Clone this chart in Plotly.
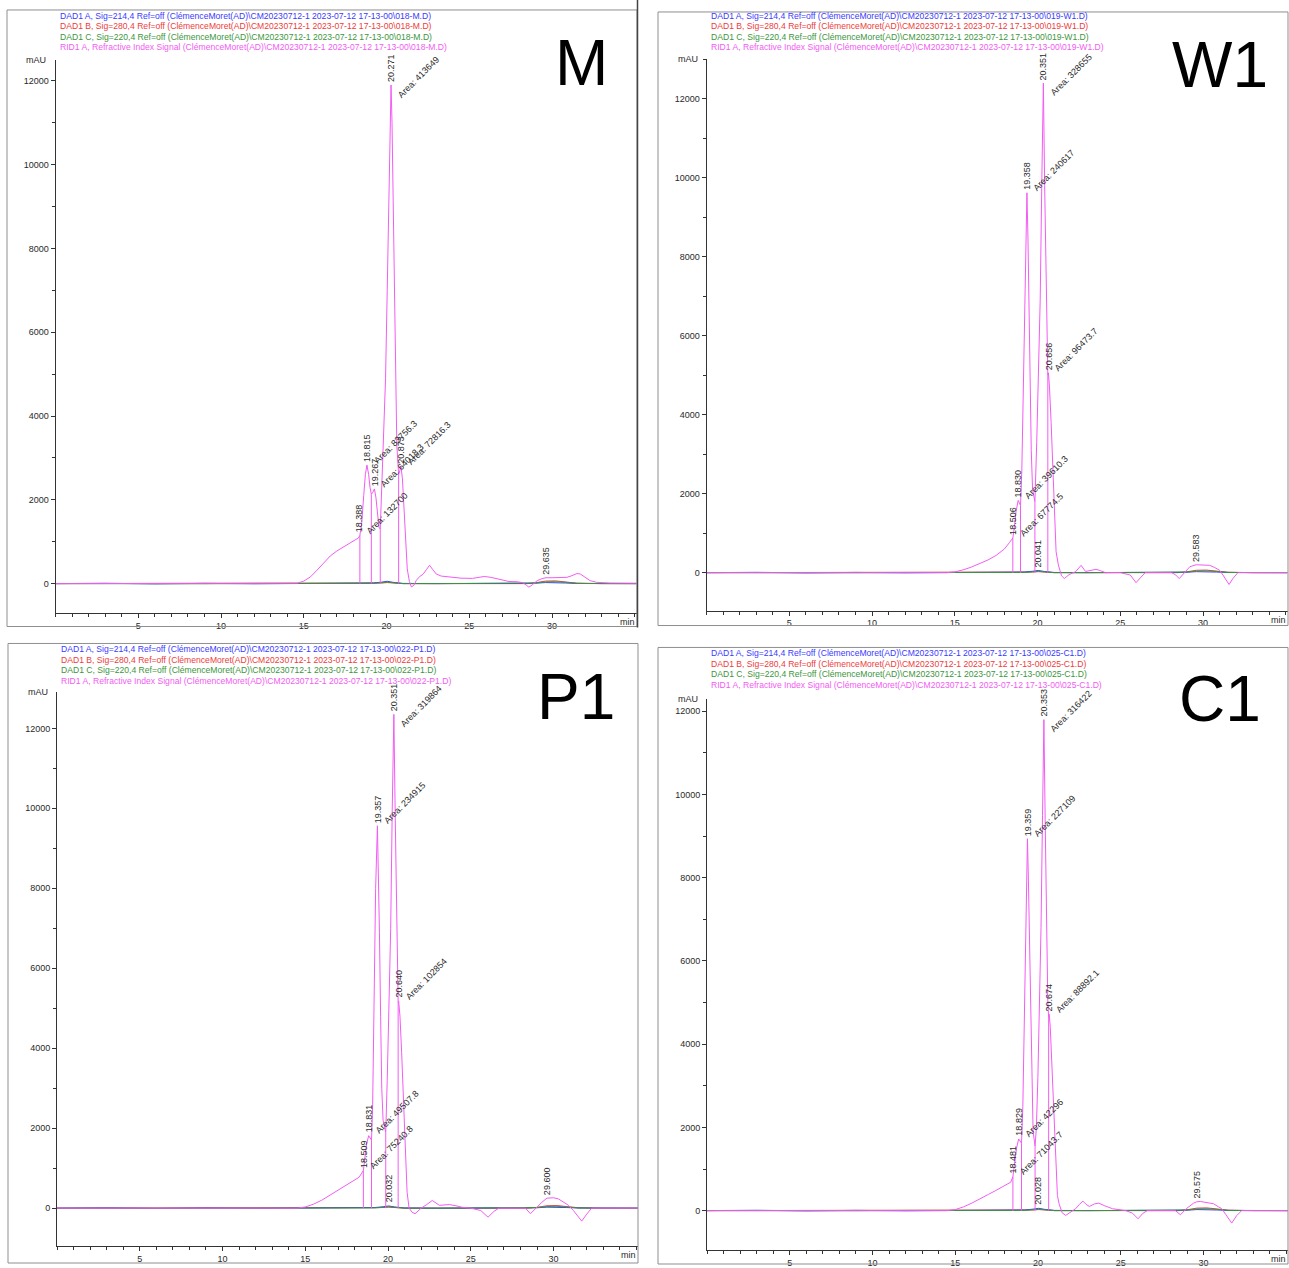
import plotly.graph_objects as go

FIG_W, FIG_H = 1289, 1268

# ---------------------------------------------------------------------------
# RID1 A refractive-index traces: (retention time [min], signal [mAU])
# ---------------------------------------------------------------------------
M_RID = [
    (0, 0), (4, 0), (8, 0), (12, 0), (14.2, 0), (14.6, 10), (15.0, 60), (15.4, 160),
    (15.8, 320), (16.2, 500), (16.6, 660), (17.0, 780), (17.4, 880), (17.8, 960),
    (18.1, 1040), (18.3, 1090), (18.388, 1150), (18.5, 1450), (18.62, 2100),
    (18.72, 2600), (18.815, 2830), (18.92, 2600), (19.0, 2300), (19.08, 2130),
    (19.17, 2180), (19.267, 2260), (19.36, 2050), (19.45, 1650), (19.54, 1350),
    (19.62, 1300), (19.72, 2300), (19.82, 3600), (19.94, 4900), (20.04, 7000),
    (20.14, 9400), (20.22, 11000), (20.271, 11900), (20.33, 11000), (20.4, 8900),
    (20.47, 6700), (20.54, 4700), (20.62, 3300), (20.73, 2600), (20.873, 2790),
    (20.96, 2500), (21.05, 1800), (21.15, 1000), (21.25, 350), (21.38, 50),
    (21.5, -80), (21.65, -40), (21.8, 80), (22.0, 170), (22.2, 220), (22.4, 330),
    (22.6, 437), (22.8, 330), (23.0, 230), (23.3, 180), (23.8, 160), (24.5, 130),
    (25.2, 125), (25.6, 150), (25.9, 170), (26.3, 150), (26.8, 100), (27.4, 50),
    (27.9, 45), (28.25, 20), (28.45, -40), (28.6, -85), (28.8, -30), (29.1, 70),
    (29.4, 120), (29.635, 140), (30.0, 140), (30.5, 140), (30.9, 150), (31.2, 190),
    (31.5, 240), (31.7, 230), (32.0, 140), (32.3, 70), (32.7, 30), (33.5, 15),
    (35.1, 10),
]

W1_RID = [
    (0, 0), (4, 0), (8, 0), (12, 0), (14.5, 0), (15.0, 20), (15.5, 70), (16.0, 140),
    (16.5, 227), (17.0, 320), (17.5, 437), (18.0, 600), (18.3, 760), (18.506, 876),
    (18.6, 1150), (18.7, 1550), (18.83, 1830), (18.9, 1780), (18.97, 1700),
    (19.05, 2600), (19.14, 4900), (19.25, 8000), (19.358, 9620), (19.42, 8500),
    (19.48, 6900), (19.55, 4800), (19.62, 3100), (19.7, 2100), (19.84, 1800),
    (19.95, 3300), (20.05, 5000), (20.16, 6900), (20.26, 10000), (20.351, 12400),
    (20.43, 9800), (20.52, 6900), (20.58, 5400), (20.62, 5000), (20.656, 5060),
    (20.72, 4700), (20.82, 3800), (20.9, 3000), (20.96, 2550), (21.05, 1300),
    (21.12, 530), (21.26, 190), (21.45, -80), (21.62, -150), (21.9, -50),
    (22.3, 25), (22.5, 120), (22.63, 185), (22.9, 30), (23.2, 60), (23.53, 85),
    (23.8, 50), (24.1, 0), (25.0, 0), (25.6, -60), (25.95, -253), (26.3, -80),
    (26.5, 0), (28.1, 0), (28.35, -60), (28.56, -150), (28.8, -40), (28.97, 60),
    (29.2, 150), (29.583, 200), (30.0, 200), (30.4, 185), (30.7, 130), (31.0, 60),
    (31.2, -60), (31.57, -300), (31.8, -150), (32.1, 0), (35.1, 0),
]

P1_RID = [
    (0, 0), (4, 0), (8, 0), (12, 0), (14.5, 0), (15.0, 30), (15.5, 100), (16.0, 200),
    (16.45, 316), (17.0, 450), (17.45, 566), (17.9, 680), (18.25, 773), (18.509, 940),
    (18.6, 1200), (18.7, 1600), (18.831, 1813), (18.92, 1750), (19.0, 1700),
    (19.07, 2600), (19.15, 5000), (19.25, 8000), (19.357, 9563), (19.42, 8400),
    (19.48, 6900), (19.55, 4800), (19.62, 3000), (19.7, 2200), (19.86, 1900),
    (19.95, 3200), (20.05, 5000), (20.16, 7000), (20.25, 9900), (20.351, 12350),
    (20.43, 9900), (20.52, 7000), (20.57, 5600), (20.61, 5150), (20.64, 5182),
    (20.72, 4800), (20.82, 3900), (20.9, 3000), (20.97, 2400), (21.05, 1300),
    (21.15, 400), (21.27, 0), (21.45, -100), (21.63, -140), (22.0, 0), (22.3, 80),
    (22.67, 192), (23.1, 70), (23.4, 85), (23.7, 90), (24.1, 60), (24.5, 20),
    (25.0, 0), (25.6, -60), (26.04, -225), (26.4, -80), (26.7, 0), (28.3, 0),
    (28.6, -140), (28.8, -50), (29.0, 15), (29.3, 150), (29.6, 250), (30.0, 260),
    (30.3, 230), (30.6, 160), (30.9, 70), (31.2, -60), (31.7, -324), (32.0, -150),
    (32.3, 0), (35.1, 0),
]

C1_RID = [
    (0, 0), (4, 0), (8, 0), (12, 0), (14.5, 0), (15.0, 25), (15.5, 90), (16.0, 180),
    (16.45, 283), (17.0, 390), (17.45, 484), (17.9, 590), (18.35, 683), (18.481, 819),
    (18.6, 1150), (18.7, 1500), (18.829, 1722), (18.92, 1680), (19.0, 1620),
    (19.08, 2500), (19.17, 4800), (19.27, 7600), (19.359, 8938), (19.42, 7900),
    (19.48, 6600), (19.55, 4600), (19.62, 2900), (19.7, 1900), (19.82, 1550),
    (19.9, 2000), (19.99, 3200), (20.08, 4900), (20.18, 6800), (20.27, 9500),
    (20.353, 11800), (20.43, 9400), (20.52, 6700), (20.59, 5000), (20.64, 4650),
    (20.674, 4719), (20.74, 4400), (20.83, 3600), (20.92, 2800), (21.0, 2000),
    (21.08, 1000), (21.17, 364), (21.27, 165), (21.45, -50), (21.67, -115),
    (22.0, -20), (22.27, 45), (22.5, 150), (22.71, 228), (22.9, 150), (23.1, 100),
    (23.4, 160), (23.67, 180), (24.0, 120), (24.5, 45), (25.3, 0), (25.7, -60),
    (26.04, -196), (26.35, -60), (26.6, 0), (28.3, 0), (28.6, -100), (28.8, -20),
    (29.0, 60), (29.4, 180), (29.575, 210), (29.8, 220), (30.2, 200), (30.6, 165),
    (30.9, 90), (31.1, 45), (31.35, -100), (31.7, -300), (32.0, -120), (32.3, 0),
    (35.1, 0),
]

# Integrated peaks: (retention time, apex mAU, area or None)
M_PEAKS = [(18.388, 1150, "132700"), (18.815, 2830, "83756.3"), (19.267, 2260, "64018.3"),
           (20.271, 11900, "413649"), (20.873, 2790, "72816.3"), (29.635, 140, None)]
W1_PEAKS = [(18.506, 876, "67774.5"), (18.830, 1830, "39610.3"), (19.358, 9620, "240617"),
            (20.041, 60, None), (20.351, 12400, "328655"), (20.656, 5060, "96473.7"),
            (29.583, 200, None)]
P1_PEAKS = [(18.509, 940, "75240.8"), (18.831, 1813, "49507.8"), (19.357, 9563, "234915"),
            (20.032, 60, None), (20.351, 12350, "319864"), (20.640, 5182, "102854"),
            (29.600, 250, None)]
C1_PEAKS = [(18.481, 819, "71043.7"), (18.829, 1722, "42296"), (19.359, 8938, "227109"),
            (20.028, 60, None), (20.353, 11800, "316422"), (20.674, 4719, "88892.1"),
            (29.575, 210, None)]

# Peak-separation drop lines: (minutes, mAU where the line meets the trace)
M_DROPS = [(18.388, 1150), (19.08, 2130), (19.62, 1300), (20.73, 2600)]
W1_DROPS = [(18.506, 876), (18.97, 1700), (19.84, 1800), (20.62, 5000)]
P1_DROPS = [(18.509, 940), (19.0, 1700), (19.86, 1900), (20.61, 5150)]
C1_DROPS = [(18.481, 819), (19.0, 1620), (19.82, 1550), (20.64, 4650)]

# DAD1 UV traces (A 214 nm, B 280 nm, C 220 nm)
DAD_TIME = [0, 3, 6, 9, 12, 14, 16, 18, 19.2, 19.7, 20.04, 20.4, 21.0, 23, 26,
            28.5, 29.0, 29.6, 30.2, 30.8, 31.5, 33, 35.1]
DAD_A = [0, 8, -6, 6, -5, 0, 0, 5, 15, 35, 55, 30, 5, 0, 0, 0, 10, 25, 25, 15, 5, 0, 0]
DAD_B = [0, 0, 0, 0, 0, 0, 0, 0, 5, 15, 25, 15, 0, 0, 0, 0, 20, 60, 65, 40, 10, 0, 0]
DAD_C = [0, -4, 4, -4, 4, 0, 0, 0, 5, 20, 35, 20, 0, 0, 0, 0, 15, 40, 45, 30, 5, 0, 0]

X_TICKS = [5, 10, 15, 20, 25, 30]
Y_TICKS = [0, 2000, 4000, 6000, 8000, 10000, 12000]
X_MAX = 35.1

RUNS = [
    ("M", "018-M", M_RID, M_PEAKS, M_DROPS),
    ("W1", "019-W1", W1_RID, W1_PEAKS, W1_DROPS),
    ("P1", "022-P1", P1_RID, P1_PEAKS, P1_DROPS),
    ("C1", "025-C1", C1_RID, C1_PEAKS, C1_DROPS),
]

# Page geometry of each report panel (pixels)
PANELS = [
    dict(frame=(7, 10, 637, 628), plot=(55.5, 60, 636.5, 614.4), yrange=(-700, 12500),
         header=(58, 16), tag=(581, 63)),
    dict(frame=(658, 12, 1288, 627), plot=(706.5, 59.5, 1287.5, 612), yrange=(-960, 13000),
         header=(709, 16), tag=(1220, 65)),
    dict(frame=(8, 645, 638, 1266), plot=(57, 694, 638, 1249.1), yrange=(-950, 12900),
         header=(59, 651), tag=(576, 699)),
    dict(frame=(658, 649, 1288, 1267), plot=(707, 700.5, 1288, 1253.1), yrange=(-950, 12300),
         header=(709, 655), tag=(1220, 701)),
]

FONT = "Liberation Sans, Arial, sans-serif"
BLUE, RED, GREEN, MAGENTA = "#3a3aff", "#ee3b3b", "#3c963c", "#f25cf2"
AXIS = "#333333"
LABEL = "#2a2a2a"


def px(x):
    return x / FIG_W


def py(y):
    return 1 - y / FIG_H


fig = go.Figure()
annotations = []
shapes = []

for i, ((tag, code, rid, peaks, drops), pan) in enumerate(zip(RUNS, PANELS), start=1):
    xa = "x" if i == 1 else f"x{i}"
    ya = "y" if i == 1 else f"y{i}"
    left, top, right, bottom = pan["plot"]

    # UV traces underneath, RI trace on top
    for vals, col in ((DAD_B, RED), (DAD_A, BLUE), (DAD_C, GREEN)):
        fig.add_trace(go.Scatter(x=DAD_TIME, y=vals, mode="lines", xaxis=xa, yaxis=ya,
                                 line=dict(color=col, width=1), hoverinfo="skip",
                                 showlegend=False))
    t_vals = [p[0] for p in rid]
    s_vals = [p[1] for p in rid]
    fig.add_trace(go.Scatter(x=t_vals, y=s_vals, mode="lines", xaxis=xa, yaxis=ya,
                             line=dict(color=MAGENTA, width=1), showlegend=False))

    dx, dy = [], []
    for t, h in drops:
        dx += [t, t, None]
        dy += [0, h, None]
    fig.add_trace(go.Scatter(x=dx, y=dy, mode="lines", xaxis=xa, yaxis=ya,
                             line=dict(color=MAGENTA, width=1), hoverinfo="skip",
                             showlegend=False))

    axis_common = dict(showline=True, linecolor=AXIS, linewidth=1, ticks="outside",
                       tickcolor=AXIS, ticklen=4, tickfont=dict(family=FONT, size=9, color=LABEL),
                       showgrid=False, zeroline=False, fixedrange=True)
    fig.update_layout(**{
        ("xaxis" if i == 1 else f"xaxis{i}"): dict(
            domain=[px(left), px(right)], range=[0, X_MAX], anchor=ya,
            tickmode="array", tickvals=X_TICKS,
            minor=dict(tickmode="linear", tick0=0, dtick=1, ticks="outside",
                       ticklen=3, tickcolor=AXIS),
            **axis_common),
        ("yaxis" if i == 1 else f"yaxis{i}"): dict(
            domain=[py(bottom), py(top)], range=list(pan["yrange"]), anchor=xa,
            tickmode="array", tickvals=Y_TICKS, tickformat="d",
            minor=dict(tickmode="linear", tick0=0, dtick=1000, ticks="outside",
                       ticklen=3, tickcolor=AXIS),
            **axis_common),
    })

    # panel frame
    fx0, fy0, fx1, fy1 = pan["frame"]
    shapes.append(dict(type="rect", xref="paper", yref="paper", x0=px(fx0), x1=px(fx1),
                       y0=py(fy1), y1=py(fy0), line=dict(color="#8f8f8f", width=1)))

    # signal descriptions
    hx, hy = pan["header"]
    src = f"(ClémenceMoret(AD)\\CM20230712-1 2023-07-12 17-13-00\\{code}.D)"
    lines = [
        (f"DAD1 A, Sig=214,4 Ref=off {src}", BLUE),
        (f"DAD1 B, Sig=280,4 Ref=off {src}", RED),
        (f"DAD1 C, Sig=220,4 Ref=off {src}", GREEN),
        (f"RID1 A, Refractive Index Signal {src}", MAGENTA),
    ]
    for k, (txt, col) in enumerate(lines):
        annotations.append(dict(text=txt, xref="paper", yref="paper", x=px(hx),
                                y=py(hy + 10.5 * k), xanchor="left", yanchor="middle",
                                showarrow=False, font=dict(family=FONT, size=8.6, color=col)))

    # sample tag
    tx, ty = pan["tag"]
    annotations.append(dict(text=tag, xref="paper", yref="paper", x=px(tx), y=py(ty),
                            xanchor="center", yanchor="middle", showarrow=False,
                            font=dict(family=FONT, size=64, color="black")))

    # axis units
    annotations.append(dict(text="mAU", xref="paper", yref="paper", x=px(left - 7),
                            y=py(top), xanchor="right", yanchor="middle", showarrow=False,
                            font=dict(family=FONT, size=9, color=LABEL)))
    annotations.append(dict(text="min", xref="paper", yref="paper", x=px(right),
                            y=py(bottom + 9), xanchor="right", yanchor="middle",
                            showarrow=False, font=dict(family=FONT, size=9, color=LABEL)))

    # peak labels
    tallest = max(h for _, h, _ in peaks)
    for rt, h, area in peaks:
        annotations.append(dict(text=f"{rt:.3f}", xref=xa, yref=ya, x=rt, y=h,
                                xanchor="center", yanchor="bottom", textangle=-90,
                                yshift=1, showarrow=False,
                                font=dict(family=FONT, size=9, color=LABEL)))
        if area:
            annotations.append(dict(text=f"Area: {area}", xref=xa, yref=ya, x=rt, y=h,
                                    xanchor="left", yanchor="bottom", textangle=-45,
                                    xshift=2, yshift=-17 if h == tallest else -3,
                                    showarrow=False,
                                    font=dict(family=FONT, size=9, color=LABEL)))

# darker right border of the first report page
shapes.append(dict(type="line", xref="paper", yref="paper", x0=px(637.5), x1=px(637.5),
                   y0=py(629), y1=py(0), line=dict(color="#444444", width=1.5)))

fig.update_layout(width=FIG_W, height=FIG_H, margin=dict(l=0, r=0, t=0, b=0),
                  autosize=False, paper_bgcolor="white", plot_bgcolor="white",
                  showlegend=False, annotations=annotations, shapes=shapes)

fig.write_html("out.html")
